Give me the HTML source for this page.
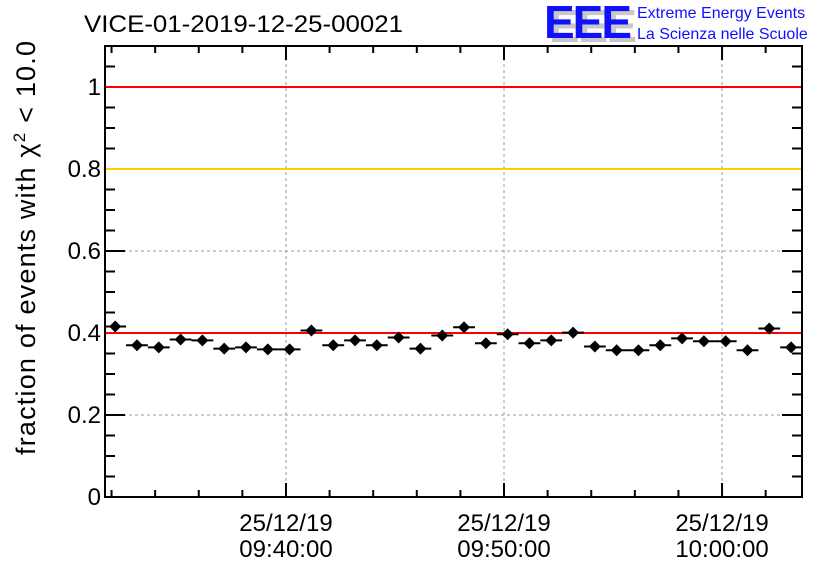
<!DOCTYPE html>
<html><head><meta charset="utf-8"><style>
body{margin:0;background:#fff}
svg{display:block;font-family:"Liberation Sans",sans-serif}
</style></head><body>
<svg id="c" width="836" height="572" viewBox="0 0 836 572" xmlns="http://www.w3.org/2000/svg">
<text x="84" y="32" font-size="24" textLength="319" lengthAdjust="spacingAndGlyphs">VICE-01-2019-12-25-00021</text>
<g>
<text x="549" y="42" font-size="46" font-weight="bold" fill="#c8c8c8" letter-spacing="-2">EEE</text>
<text x="544" y="38" font-size="46" font-weight="bold" fill="#1010ff" letter-spacing="-2">EEE</text>
<text x="637" y="18" font-size="16" fill="#1010ff">Extreme Energy Events</text>
<text x="637" y="39" font-size="16" fill="#1010ff">La Scienza nelle Scuole</text>
</g>
<text transform="translate(35,455) rotate(-90)" font-size="27" letter-spacing="1.2">fraction of events with χ<tspan dy="-10" font-size="17">2</tspan><tspan dy="10"> &lt; 10.0</tspan></text>
<g id="grid"></g><g id="axes"></g><g id="lines"></g><g id="marks"></g>
</svg>
<script>
const values=[0.416,0.370,0.365,0.384,0.382,0.362,0.365,0.360,0.360,0.406,0.370,0.382,0.370,0.389,0.362,0.394,0.414,0.375,0.397,0.375,0.382,0.401,0.367,0.358,0.358,0.370,0.387,0.380,0.380,0.358,0.411,0.365];
const errors=[0.01,0.01,0.01,0.01,0.01,0.01,0.01,0.01,0.01,0.01,0.01,0.01,0.01,0.01,0.01,0.01,0.01,0.01,0.01,0.01,0.01,0.01,0.01,0.01,0.01,0.01,0.01,0.01,0.01,0.01,0.01,0.01];
const startSec=-470; // seconds relative to 09:40:00 for first bin centre
const binSec=60;
const yTicks=[0,0.2,0.4,0.6,0.8,1];
const yTickLabels=["0","0.2","0.4","0.6","0.8","1"];
const xMajorSec=[0,600,1200];
const xLabels=[["25/12/19","09:40:00"],["25/12/19","09:50:00"],["25/12/19","10:00:00"]];
const refLines=[[1,"#ff0000"],[0.8,"#ffcc00"],[0.4,"#ff0000"]];
const L=105,R=802,T=46,B=497,XMIN=-498,XMAX=1420,YMAX=1.1;
const X=s=>L+(s-XMIN)*(R-L)/(XMAX-XMIN);
const Y=v=>B-v*(B-T)/YMAX;
const NS="http://www.w3.org/2000/svg";
function mk(p,tag,a){const e=document.createElementNS(NS,tag);for(const k in a)e.setAttribute(k,a[k]);document.getElementById(p).appendChild(e);return e;}
xMajorSec.forEach(s=>{const e=mk("grid","line",{x1:X(s),x2:X(s),y1:T,y2:B,stroke:"#999","stroke-dasharray":"3,3"});

});
yTicks.slice(1).forEach(v=>{const e=mk("grid","line",{x1:L,x2:R,y1:Y(v),y2:Y(v),stroke:"#999","stroke-dasharray":"3,3"});

});
const f=mk("axes","rect",{x:L,y:T,width:R-L,height:B-T,fill:"none",stroke:"#000","stroke-width":2});


for(let k=0;k<=22;k++){const v=k*0.05;if(v>YMAX+1e-9)break;const maj=k%4==0,len=maj?20:10;
mk("axes","line",{x1:L,x2:L+len,y1:Y(v),y2:Y(v),stroke:"#000","stroke-width":2});
mk("axes","line",{x1:R,x2:R-len,y1:Y(v),y2:Y(v),stroke:"#000","stroke-width":2});}
yTicks.forEach((v,i)=>{const t=mk("axes","text",{x:L-4,y:Y(v)+8,"text-anchor":"end","font-size":24});t.textContent=yTickLabels[i];

});
for(let s=-480;s<=XMAX;s+=120){const maj=s%600==0,len=maj?14:7;
mk("axes","line",{x1:X(s),x2:X(s),y1:B,y2:B-len,stroke:"#000","stroke-width":2});
mk("axes","line",{x1:X(s),x2:X(s),y1:T,y2:T+len,stroke:"#000","stroke-width":2});}
xMajorSec.forEach((s,i)=>{for(let j=0;j<2;j++){const t=mk("axes","text",{x:X(s),y:j?557:531,"text-anchor":"middle","font-size":24});t.textContent=xLabels[i][j];

}});
refLines.forEach(r=>{const e=mk("lines","line",{x1:L+1,x2:R-1,y1:Y(r[0]),y2:Y(r[0]),stroke:r[1],"stroke-width":2});

});
values.forEach((v,i)=>{const s=startSec+i*binSec,cx=X(s),cy=Y(v);
const g=mk("marks","g",{});


const a=document.createElementNS(NS,"line");a.setAttribute("x1",X(s-binSec/2));a.setAttribute("x2",X(s+binSec/2));a.setAttribute("y1",cy);a.setAttribute("y2",cy);a.setAttribute("stroke","#000");a.setAttribute("stroke-width",2);g.appendChild(a);
const b=document.createElementNS(NS,"line");b.setAttribute("x1",cx);b.setAttribute("x2",cx);b.setAttribute("y1",Y(v-errors[i]));b.setAttribute("y2",Y(v+errors[i]));b.setAttribute("stroke","#000");b.setAttribute("stroke-width",2);g.appendChild(b);
const d=document.createElementNS(NS,"polygon");d.setAttribute("points",`${cx},${cy-6} ${cx+6},${cy} ${cx},${cy+6} ${cx-6},${cy}`);d.setAttribute("fill","#000");g.appendChild(d);});
</script>
</body></html>
